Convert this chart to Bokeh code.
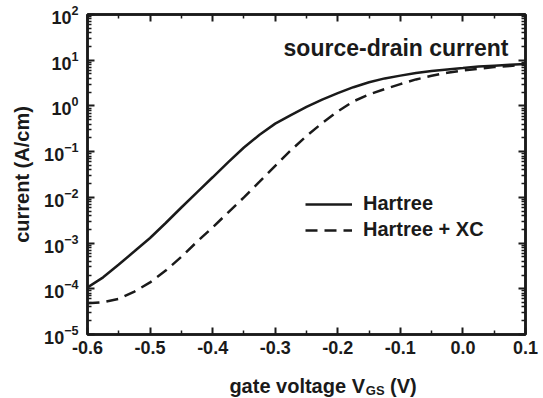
from bokeh.plotting import figure
from bokeh.layouts import column
from bokeh.models import (LogAxis, LinearAxis, FixedTicker, Label, Legend,
                          LegendItem, PrintfTickFormatter)
from bokeh.embed import file_html
from bokeh.resources import INLINE

# ---- data ----
vgs = [-0.6, -0.575, -0.55, -0.525, -0.5, -0.475, -0.45, -0.425, -0.4, -0.375,
       -0.35, -0.325, -0.3, -0.275, -0.25, -0.225, -0.2, -0.175, -0.15, -0.125,
       -0.1, -0.075, -0.05, -0.025, 0.0, 0.025, 0.05, 0.075, 0.1]
hartree = [1.07e-4, 1.78e-4, 3.4e-4, 6.6e-4, 1.29e-3, 2.75e-3, 6.0e-3, 1.29e-2,
           2.75e-2, 5.9e-2, 0.123, 0.235, 0.41, 0.63, 0.955, 1.38, 1.9, 2.57,
           3.3, 4.0, 4.6, 5.25, 5.8, 6.3, 6.75, 7.25, 7.6, 7.95, 8.3]
hartree_xc = [4.8e-5, 5.1e-5, 6.0e-5, 8.7e-5, 1.38e-4, 2.5e-4, 5.0e-4, 1.07e-3,
              2.2e-3, 4.7e-3, 1.0e-2, 2.2e-2, 4.9e-2, 0.107, 0.22, 0.42, 0.76,
              1.26, 1.78, 2.34, 3.0, 3.8, 4.57, 5.3, 5.95, 6.5, 7.1, 7.5, 7.95]

x_ticks = [-0.6, -0.5, -0.4, -0.3, -0.2, -0.1, 0.0, 0.1]
x_minor = [-0.55, -0.45, -0.35, -0.25, -0.15, -0.05, 0.05]
y_exps = [-5, -4, -3, -2, -1, 0, 1, 2]
y_ticks = [10.0 ** e for e in y_exps]
y_minor = [m * 10.0 ** e for e in y_exps[:-1] for m in range(2, 10)]

FONT = "Liberation Sans"
INK = "#1a1a1a"

p = figure(width=543, height=360, x_range=(-0.6, 0.1), y_range=(1e-5, 1e2),
           y_axis_type="log", output_backend="svg", toolbar_location=None,
           min_border_left=87, min_border_right=18, min_border_top=14,
           min_border_bottom=26)
p.grid.visible = False
p.outline_line_color = INK
p.outline_line_width = 2.5

xt = FixedTicker(ticks=x_ticks, minor_ticks=x_minor)
yt = FixedTicker(ticks=y_ticks, minor_ticks=y_minor)


def style(ax):
    ax.axis_line_width = 2.5
    ax.axis_line_color = INK
    ax.major_tick_in = 7
    ax.major_tick_out = 0
    ax.minor_tick_in = 4
    ax.minor_tick_out = 0
    ax.major_tick_line_width = 2
    ax.minor_tick_line_width = 1.5
    ax.major_tick_line_color = INK
    ax.minor_tick_line_color = INK
    ax.major_label_text_font = FONT
    ax.major_label_text_font_style = "bold"
    ax.major_label_text_font_size = "18px"
    ax.major_label_text_color = INK


xa = p.xaxis[0]
xa.ticker = xt
xa.formatter = PrintfTickFormatter(format="%.1f")
style(xa)
xa.major_label_standoff = 6

ya = p.yaxis[0]
ya.ticker = yt
style(ya)
ya.major_label_standoff = 9
ya.axis_label = "current (A/cm)"
ya.axis_label_text_font = FONT
ya.axis_label_text_font_style = "bold"
ya.axis_label_text_font_size = "20px"
ya.axis_label_text_color = INK
ya.axis_label_standoff = 8

top = LinearAxis(ticker=xt)
style(top)
top.major_label_text_font_size = "1px"
top.major_label_text_color = None
top.major_label_standoff = 0
p.add_layout(top, "above")

right = LogAxis(ticker=yt)
style(right)
right.major_label_text_font_size = "1px"
right.major_label_text_color = None
right.major_label_standoff = 0
p.add_layout(right, "right")

r1 = p.line(vgs, hartree, line_color=INK, line_width=2.5)
r2 = p.line(vgs, hartree_xc, line_color=INK, line_width=2.5,
            line_dash="12 7")

legend = Legend(items=[LegendItem(label="Hartree", renderers=[r1]),
                       LegendItem(label="Hartree + XC", renderers=[r2])],
                location=(218, 93), border_line_color=None,
                background_fill_alpha=0, label_text_font=FONT,
                label_text_font_style="bold", label_text_font_size="20px",
                label_text_color=INK, glyph_width=47, glyph_height=20,
                label_standoff=11, spacing=3, padding=0, margin=0)
p.add_layout(legend)

p.add_layout(Label(x=421, y=287, x_units="screen", y_units="screen",
                   text="source-drain current", text_align="right",
                   text_baseline="alphabetic",
                   text_font=FONT, text_font_style="bold",
                   text_font_size="23px", text_color=INK))

# ---- x-axis title strip (with subscript) ----
t = figure(width=543, height=38, x_range=(0, 543), y_range=(0, 38),
           output_backend="svg", toolbar_location=None, min_border=0,
           x_axis_location=None, y_axis_location=None)
t.grid.visible = False
t.outline_line_color = None

t.add_layout(Label(x=344, y=13, text="gate voltage V", text_align="right",
                   text_baseline="alphabetic", text_font=FONT,
                   text_font_style="bold", text_font_size="20px",
                   text_color=INK))
t.add_layout(Label(x=345, y=8, text="GS", text_align="left",
                   text_baseline="alphabetic", text_font=FONT,
                   text_font_style="bold", text_font_size="13px",
                   text_color=INK))
t.add_layout(Label(x=375, y=13, text="(V)", text_align="left",
                   text_baseline="alphabetic", text_font=FONT,
                   text_font_style="bold", text_font_size="20px",
                   text_color=INK))

layout = column(p, t, spacing=0)
open("out.html", "w").write(file_html(layout, INLINE))
